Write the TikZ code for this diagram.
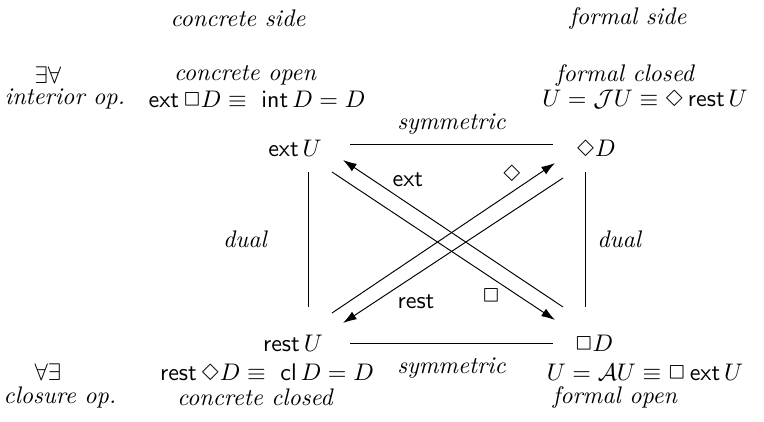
\documentclass[tikz,border=0pt]{standalone}
\usepackage{amsmath,latexsym}
\usetikzlibrary{arrows.meta}

\begin{document}
\begin{tikzpicture}[
  x=0.01465cm, y=-0.01465cm,
  >={Latex[length=2mm,width=1.3mm]},
  sidelbl/.style={font=\itshape, inner sep=1pt},
  eqnode/.style={inner sep=1pt},
  termnode/.style={inner sep=1pt},
  oplbl/.style={inner sep=1pt},
  arr/.style={->, thin}
]
\useasboundingbox (0,0) rectangle (764,421);

% =============================================================
% headings
% =============================================================
\node[sidelbl] (csidelbl) at (238,18) {concrete side};
\node[sidelbl] (fsidelbl) at (628,18) {formal side};

% left column: quantifiers
\node[eqnode] (exall)   at (48,75)  {$\exists\forall$};
\node[sidelbl] (interior) at (65,99) {interior op.};
\node[eqnode] (allex)   at (48,372) {$\forall\exists$};
\node[sidelbl] (closure)  at (60,397) {closure op.};

% fixed points
\node[sidelbl] (copen) at (245,75) {concrete open};
\node[eqnode] (copeneq) at (257,99)
   {$\mathsf{ext}\,\Box D \equiv\ \mathsf{int}\,D = D$};
\node[sidelbl] (fclosed) at (625,75) {formal closed};
\node[eqnode] (fclosedeq) at (645,99)
   {$U = \mathcal{J}U \equiv \Diamond\,\mathsf{rest}\,U$};
\node[eqnode] (cclosedeq) at (267,372)
   {$\mathsf{rest}\,\Diamond D \equiv\ \mathsf{cl}\,D = D$};
\node[sidelbl] (cclosed) at (255,397) {concrete closed};
\node[eqnode] (fopeneq) at (645,372)
   {$U = \mathcal{A}U \equiv \Box\,\mathsf{ext}\,U$};
\node[sidelbl] (fopen) at (615,397) {formal open};

% =============================================================
% square corners
% =============================================================
\node[termnode] (extU)  at (295,148) {$\mathsf{ext}\,U$};
\node[termnode] (diaD)  at (596,148) {$\Diamond D$};
\node[termnode] (restU) at (293,343) {$\mathsf{rest}\,U$};
\node[termnode] (boxD)  at (594,343) {$\Box D$};

% =============================================================
% sides
% =============================================================
\draw ([shift={(55,-4)}]extU.center) --
   node[sidelbl, above=3pt] (symtop) {symmetric}
   ([shift={(-43,-4)}]diaD.center);
\draw ([shift={(57,0)}]restU.center) --
   node[sidelbl, below=5pt] (symbot) {symmetric}
   ([shift={(-41,0)}]boxD.center);
\draw ([shift={(13,24)}]extU.center) --
   node[sidelbl, left=16pt] (dualleft) {dual}
   ([shift={(15,-36)}]restU.center);
\draw ([shift={(-11,24)}]diaD.center) --
   node[sidelbl, right=4pt] (dualright) {dual}
   ([shift={(-9,-36)}]boxD.center);

% =============================================================
% diagonals
% =============================================================
\draw[arr] ([shift={(37,24)}]extU.center) --
   node[oplbl, pos=0.713, yshift=-8.5pt] (boxlbl) {$\Box$}
   ([shift={(-39,-23)}]boxD.center);
\draw[arr] ([shift={(-31,-36)}]boxD.center) --
   node[oplbl, pos=0.705, yshift=9.7pt] (extlbl) {$\mathsf{ext}$}
   ([shift={(48,12)}]extU.center);
\draw[arr] ([shift={(39,-30)}]restU.center) --
   node[oplbl, pos=0.807, yshift=6.7pt] (dialbl) {$\Diamond$}
   ([shift={(-41,15)}]diaD.center);
\draw[arr] ([shift={(-33,30)}]diaD.center) --
   node[oplbl, pos=0.668, yshift=-11.3pt] (restlbl) {$\mathsf{rest}$}
   ([shift={(50,-20)}]restU.center);

\end{tikzpicture}
\end{document}
